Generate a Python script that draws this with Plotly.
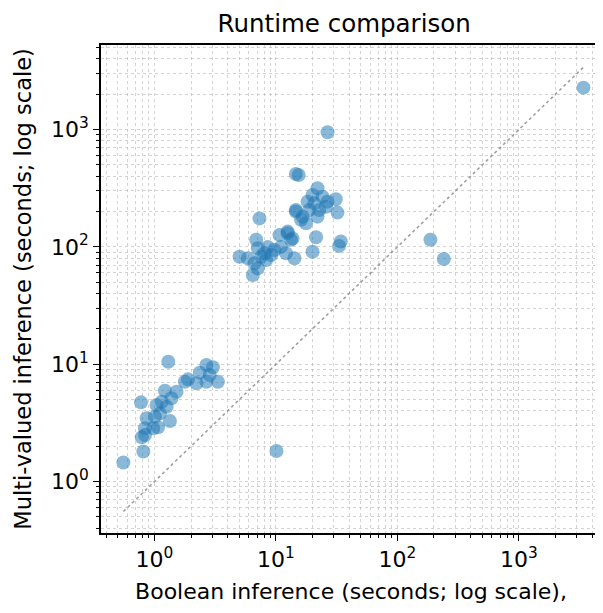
import plotly.graph_objects as go

boolean_s = [
    1.30, 2.68, 3.03, 2.36, 2.85, 1.89, 2.22, 2.68, 3.33, 1.78,
    1.52, 1.22, 1.38, 1.15, 0.775, 1.04, 1.26, 1.11, 0.863, 1.01,
    1.34, 0.836, 0.978, 1.07, 0.785, 0.836, 0.81, 0.555,
    7.32, 14.6, 16.1, 10.7, 12.5, 13.3, 6.88, 7.09, 8.57, 9.72,
    11.0, 8.05, 5.02, 5.87, 7.56, 9.14, 12.1, 14.2, 6.66, 8.31,
    6.45, 7.09,
    14.6, 15.4, 22.0, 20.0, 24.2, 18.2, 20.7, 26.6, 31.1, 14.6,
    18.8, 22.7, 25.8, 32.1, 16.6, 22.0, 17.7, 21.4, 34.2, 33.1,
    20.0, 12.5, 13.7,
    26.6, 3400, 187, 241, 10.1,
]
multivalued_s = [
    10.5, 9.85, 9.41, 8.47, 8.09, 7.43, 6.87, 7.09, 7.09, 7.09,
    5.83, 5.94, 5.12, 4.79, 4.73, 4.49, 4.34, 3.81, 3.46, 3.57,
    3.28, 2.84, 2.84, 2.90, 2.38, 2.49, 1.80, 1.45,
    175, 200, 170, 126, 131, 115, 115, 97.3, 100, 94.1,
    100, 88.2, 82.5, 80.0, 82.5, 85.3, 88.2, 80.0, 72.5, 77.3,
    57.6, 65.7,
    418, 410, 316, 277, 268, 243, 235, 243, 255, 206,
    206, 206, 220, 196, 181, 181, 159, 121, 111, 102,
    91.0, 135, 118,
    948, 2277, 115, 78.9, 1.82,
]

tick_vals = [1, 10, 100, 1000]
tick_text = ["10<sup>0</sup>", "10<sup>1</sup>", "10<sup>2</sup>", "10<sup>3</sup>"]
minor_vals = [m * 10.0 ** e for e in range(-1, 4) for m in range(2, 10)]

lo = min(min(boolean_s), min(multivalued_s))
hi = max(max(boolean_s), max(multivalued_s))

font = "DejaVu Sans"
fig = go.Figure()
fig.add_trace(go.Scatter(
    x=[lo, hi], y=[lo, hi], mode="lines",
    line=dict(color="rgba(120,120,120,0.7)", width=1.6, dash="dot"),
    hoverinfo="skip", showlegend=False,
))
fig.add_trace(go.Scatter(
    x=boolean_s, y=multivalued_s, mode="markers",
    marker=dict(size=14, color="rgba(31,119,180,0.52)", line=dict(width=0)),
    showlegend=False,
))

gridc = "rgba(175,175,175,0.55)"
common = dict(
    type="log", tickmode="array", tickvals=tick_vals, ticktext=tick_text,
    ticks="outside", ticklen=6, tickwidth=1.2, tickcolor="black",
    showline=True, linecolor="black", linewidth=1.5,
    zeroline=False, tickfont=dict(family=font, size=22, color="black"),
    showgrid=True, gridcolor=gridc, griddash="dot", gridwidth=1,
    minor=dict(tickmode="array", tickvals=minor_vals,
               ticks="outside", ticklen=3.5, tickcolor="black", tickwidth=1,
               showgrid=True, gridcolor=gridc, griddash="dot", gridwidth=1),
)
fig.update_xaxes(range=[-0.44, 3.676], mirror=True,
                 title=dict(text="Boolean inference (seconds; log scale),",
                            font=dict(family=font, size=22, color="black"), standoff=12),
                 **common)
fig.update_yaxes(range=[-0.439, 3.721], mirror=True,
                 title=dict(text="Multi-valued inference (seconds; log scale)",
                            font=dict(family=font, size=22.5, color="black"), standoff=13),
                 **common)
fig.update_layout(
    width=595, height=605,
    margin=dict(l=93, r=0, t=37, b=80),
    plot_bgcolor="white", paper_bgcolor="white",
    title=dict(text="Runtime comparison", x=0.565, xanchor="center", y=0.975, yanchor="middle",
               font=dict(family=font, size=24.5, color="black")),
    font=dict(family=font),
)
fig.write_html("out.html")
